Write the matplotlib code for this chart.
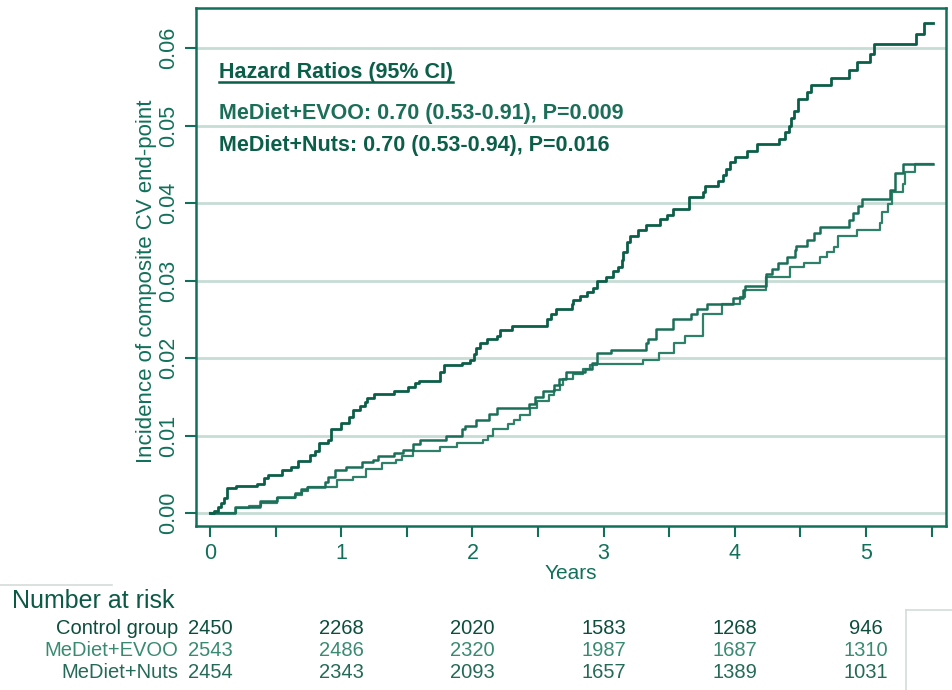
import matplotlib
matplotlib.use('Agg')
import matplotlib.pyplot as plt
from matplotlib.lines import Line2D

plt.rcParams['font.family'] = ['Liberation Sans', 'DejaVu Sans']

# cumulative incidence, Kaplan-Meier style step data (years, incidence)
ctrl_t = [0, 0.03, 0.06, 0.08, 0.11, 0.13, 0.20, 0.36, 0.41, 0.44,
          0.55, 0.62, 0.67, 0.76, 0.80, 0.83, 0.90, 0.92, 1.00, 1.06,
          1.09, 1.14, 1.18, 1.20, 1.25, 1.40, 1.51, 1.56, 1.59, 1.75,
          1.78, 1.92, 1.98, 2.01, 2.03, 2.06, 2.11, 2.19, 2.21, 2.30,
          2.57, 2.60, 2.64, 2.76, 2.77, 2.82, 2.87, 2.92, 2.95, 3.02,
          3.07, 3.11, 3.14, 3.15, 3.18, 3.20, 3.26, 3.32, 3.43, 3.48,
          3.53, 3.65, 3.76, 3.77, 3.87, 3.91, 3.93, 3.96, 4.00, 4.09,
          4.17, 4.34, 4.38, 4.41, 4.43, 4.45, 4.48, 4.55, 4.58, 4.73,
          4.87, 4.93, 5.03, 5.06, 5.38, 5.44, 5.51]
ctrl_y = [0, 0.0003, 0.0008, 0.0013, 0.0019, 0.0032, 0.0035, 0.0038, 0.0045, 0.0049,
          0.0056, 0.0060, 0.0067, 0.0075, 0.0080, 0.0090, 0.0094, 0.0108, 0.0116, 0.0124,
          0.0133, 0.0138, 0.0143, 0.0148, 0.0153, 0.0157, 0.0163, 0.0168, 0.0171, 0.0182,
          0.0191, 0.0194, 0.0197, 0.0205, 0.0213, 0.0219, 0.0224, 0.0229, 0.0236, 0.0241,
          0.0250, 0.0257, 0.0264, 0.0270, 0.0275, 0.0280, 0.0285, 0.0291, 0.0299, 0.0305,
          0.0312, 0.0318, 0.0327, 0.0337, 0.0350, 0.0358, 0.0365, 0.0372, 0.0379, 0.0385,
          0.0393, 0.0408, 0.0414, 0.0422, 0.0429, 0.0437, 0.0444, 0.0453, 0.0459, 0.0467,
          0.0476, 0.0483, 0.0492, 0.0500, 0.0510, 0.0519, 0.0535, 0.0543, 0.0553, 0.0562,
          0.0572, 0.0582, 0.0593, 0.0605, 0.0618, 0.0632, 0.0632]

nuts_t = [0, 0.19, 0.38, 0.51, 0.65, 0.69, 0.74, 0.88, 0.90, 0.95,
          1.04, 1.16, 1.24, 1.28, 1.40, 1.47, 1.55, 1.60, 1.80, 1.92,
          1.94, 2.03, 2.13, 2.19, 2.43, 2.48, 2.54, 2.62, 2.66, 2.71,
          2.86, 2.91, 2.95, 3.06, 3.32, 3.34, 3.40, 3.53, 3.67, 3.71,
          3.79, 3.99, 4.06, 4.08, 4.24, 4.28, 4.33, 4.40, 4.46, 4.47,
          4.55, 4.60, 4.65, 4.87, 4.90, 4.94, 4.97, 5.18, 5.22, 5.28, 5.51]
nuts_y = [0, 0.0008, 0.0016, 0.0021, 0.0026, 0.0031, 0.0034, 0.0040, 0.0046, 0.0055,
          0.0060, 0.0066, 0.0069, 0.0073, 0.0077, 0.0081, 0.0089, 0.0094, 0.0100, 0.0108,
          0.0112, 0.0120, 0.0128, 0.0136, 0.0141, 0.0150, 0.0158, 0.0165, 0.0173, 0.0182,
          0.0186, 0.0194, 0.0206, 0.0211, 0.0219, 0.0225, 0.0237, 0.0251, 0.0257, 0.0264,
          0.0270, 0.0278, 0.0288, 0.0293, 0.0309, 0.0315, 0.0323, 0.0330, 0.0339, 0.0345,
          0.0353, 0.0361, 0.0369, 0.0378, 0.0387, 0.0397, 0.0406, 0.0417, 0.0439, 0.0450, 0.0450]

evoo_t = [0, 0.20, 0.30, 0.39, 0.51, 0.65, 0.70, 0.75, 0.97, 1.09,
          1.19, 1.31, 1.42, 1.46, 1.55, 1.75, 1.88, 2.08, 2.12, 2.16,
          2.27, 2.32, 2.36, 2.44, 2.49, 2.58, 2.62, 2.67, 2.69, 2.77,
          2.84, 2.90, 2.95, 3.30, 3.42, 3.54, 3.62, 3.76, 3.90, 4.04,
          4.08, 4.24, 4.42, 4.53, 4.65, 4.70, 4.76, 4.79, 4.93, 5.11,
          5.12, 5.17, 5.20, 5.28, 5.30, 5.37, 5.51]
evoo_y = [0, 0.0006, 0.0009, 0.0013, 0.0019, 0.0023, 0.0029, 0.0033, 0.0042, 0.0047,
          0.0057, 0.0064, 0.0069, 0.0074, 0.0080, 0.0085, 0.0090, 0.0094, 0.0100, 0.0109,
          0.0115, 0.0120, 0.0126, 0.0136, 0.0144, 0.0152, 0.0159, 0.0165, 0.0173, 0.0180,
          0.0186, 0.0191, 0.0193, 0.0197, 0.0206, 0.0219, 0.0229, 0.0257, 0.0270, 0.0279,
          0.0288, 0.0305, 0.0317, 0.0323, 0.0330, 0.0337, 0.0343, 0.0357, 0.0365, 0.0374,
          0.0388, 0.0399, 0.0414, 0.0425, 0.0440, 0.0450, 0.0450]

# number at risk table
risk_years = [0, 1, 2, 3, 4, 5]
groups = ['Control group', 'MeDiet+EVOO', 'MeDiet+Nuts']
at_risk = [[2450, 2268, 2020, 1583, 1268, 946],
           [2543, 2486, 2320, 1987, 1687, 1310],
           [2454, 2343, 2093, 1657, 1389, 1031]]

hr_title = 'Hazard Ratios (95% CI)'
hr_lines = ['MeDiet+EVOO: 0.70 (0.53-0.91), P=0.009',
            'MeDiet+Nuts: 0.70 (0.53-0.94), P=0.016']

axis_col = '#12705a'
grid_col = '#c6ddd5'
c_ctrl = '#0b5e48'
c_nuts = '#1b6e57'
c_evoo = '#2e8068'
row_cols = ['#0c4d3b', '#3a8a72', '#246a56']

W, H = 952, 690
fig = plt.figure(figsize=(W / 100, H / 100), dpi=100)
ax = fig.add_axes([196 / W, 1 - 526 / H, 750 / W, 518 / H])

ax.step(ctrl_t, ctrl_y, where='post', color=c_ctrl, lw=2.0, zorder=4)
ax.step(evoo_t, evoo_y, where='post', color=c_evoo, lw=1.6, zorder=3)
ax.step(nuts_t, nuts_y, where='post', color=c_nuts, lw=1.8, zorder=3)

ax.set_xlim(-0.107, 5.61)
ax.set_ylim(-0.00168, 0.0652)

yt = [0.0, 0.01, 0.02, 0.03, 0.04, 0.05, 0.06]
ax.set_yticks(yt)
ax.set_yticklabels(['%.2f' % v for v in yt], rotation=90, va='center')
ax.set_xticks([i * 0.5 for i in range(12)])
ax.set_xticklabels([str(i // 2) if i % 2 == 0 else '' for i in range(12)])
ax.yaxis.grid(True, color=grid_col, lw=2)
ax.set_axisbelow(True)

ax.tick_params(axis='both', colors=axis_col, labelcolor=axis_col,
               length=8, width=1.5, labelsize=15.5)
ax.tick_params(axis='y', pad=4)
ax.tick_params(axis='x', pad=4)
for s in ax.spines.values():
    s.set_color(axis_col)
    s.set_linewidth(1.8)

ax.set_ylabel('Incidence of composite CV end-point', fontsize=16, color=axis_col)
ax.yaxis.set_label_coords(-0.052, 0.473)
ax.text(0.5, -0.091, 'Years', transform=ax.transAxes, ha='center', va='center',
        fontsize=15, color=axis_col)

# hazard ratio box
title = ax.text(0.07, 0.0569, hr_title, fontsize=15.5, fontweight='bold',
                color=c_ctrl, va='center', ha='left')
ax.text(0.07, 0.0516, hr_lines[0], fontsize=15.5, fontweight='bold',
        color=c_nuts, va='center', ha='left')
ax.text(0.07, 0.0475, hr_lines[1], fontsize=15.5, fontweight='bold',
        color=c_ctrl, va='center', ha='left')

fig.canvas.draw()
bb = title.get_window_extent()
inv = fig.transFigure.inverted()
(x0, y0), (x1, _) = inv.transform([(bb.x0, bb.y0 + 1), (bb.x1, bb.y0 + 1)])
fig.add_artist(Line2D([x0, x1], [y0, y0], color=c_ctrl, lw=1.8))

# number at risk
fig.text(12 / W, 1 - 601 / H, 'Number at risk', fontsize=18, color='#0c5a45',
         ha='left', va='center')
row_y = [628, 650, 672]
for g, counts, ry, col in zip(groups, at_risk, row_y, row_cols):
    fy = 1 - ry / H
    fig.text(178 / W, fy, g, fontsize=14.5, color=col, ha='right', va='center')
    for yr, n in zip(risk_years, counts):
        xf = inv.transform(ax.transData.transform((yr, 0)))[0]
        fig.text(xf, fy, str(n), fontsize=14.5, color=col, ha='center', va='center')

# faint panel borders at the edges
fig.add_artist(Line2D([906 / W, 906 / W], [1 - 610 / H, 0], color='#d3dcd9', lw=1.2))
fig.add_artist(Line2D([906 / W, 1], [1 - 610 / H, 1 - 610 / H], color='#d3dcd9', lw=1.2))
fig.add_artist(Line2D([0, 112 / W], [1 - 585 / H, 1 - 585 / H], color='#d3dcd9', lw=1.2))

fig.savefig('out.png', dpi=100)
